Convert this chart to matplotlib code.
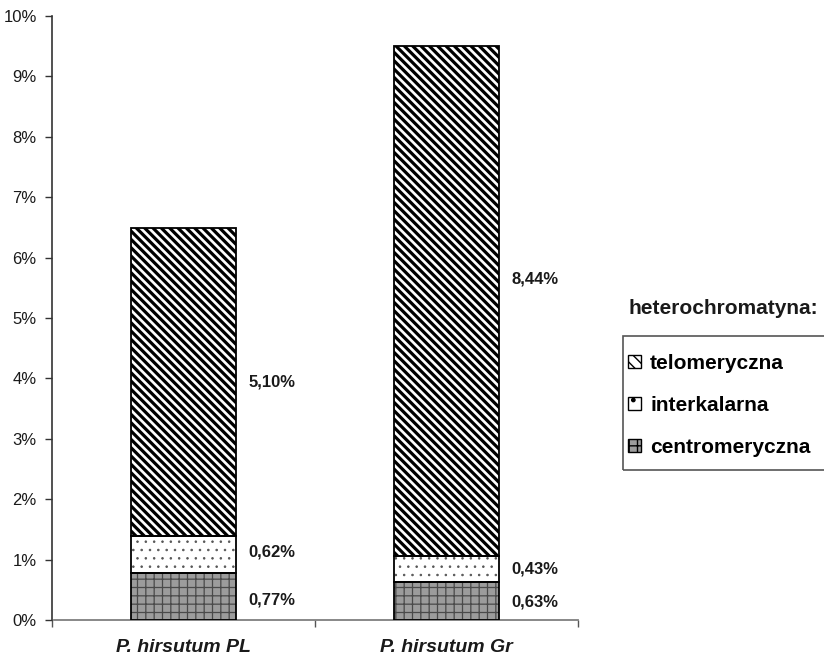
import matplotlib
matplotlib.use("Agg")
import matplotlib.pyplot as plt
from matplotlib.patches import Rectangle
import numpy as np

plt.rcParams['font.family'] = ['Liberation Sans', 'DejaVu Sans']

categories = ["P. hirsutum PL", "P. hirsutum Gr"]
series_names = ["centromeryczna", "interkalarna", "telomeryczna"]
centromeric = [0.77, 0.63]
intercalary = [0.62, 0.43]
telomeric = [5.10, 8.44]
value_labels = [["0,77%", "0,63%"], ["0,62%", "0,43%"], ["5,10%", "8,44%"]]
# vertical nudges (points) for the value labels, same layout as value_labels
label_nudge = [[-2, -1], [2, 0], [0, 16]]
y_ticks = [0, 1, 2, 3, 4, 5, 6, 7, 8, 9, 10]

W, H = 824, 656
fig = plt.figure(figsize=(W / 100, H / 100), dpi=100)
ax = fig.add_axes([52 / W, 1 - 620 / H, (579 - 52) / W, (620 - 16) / H])

x = np.arange(len(categories))
bar_w = 0.40
styles = [
    dict(face="#9c9c9c", hatch="++", hcolor="#4a4a4a", hlw=0.9,
         key_hatch="++", key_lw=0.8),
    dict(face="white", hatch="..", hcolor="#555555", hlw=0.6,
         key_hatch=".", key_lw=0.6),
    dict(face="white", hatch="\\\\\\\\", hcolor="black", hlw=2.3,
         key_hatch="\\\\\\", key_lw=1.3),
]

series = [centromeric, intercalary, telomeric]
bottom = np.zeros(len(categories))
handles = []
for vals, st, name, labels, nudges in zip(series, styles, series_names,
                                          value_labels, label_nudge):
    vals = np.asarray(vals)
    with plt.rc_context({'hatch.linewidth': st["hlw"]}):
        bars = ax.bar(x, vals, bar_w, bottom=bottom, color=st["face"],
                      edgecolor=st["hcolor"], hatch=st["hatch"], linewidth=0,
                      label=name, zorder=2)
        for b in bars:
            if hasattr(b, "set_hatch_linewidth"):
                b.set_hatch_linewidth(st["hlw"])
    ax.bar(x, vals, bar_w, bottom=bottom, fill=False, edgecolor="black",
           linewidth=1.3, zorder=3)
    with plt.rc_context({'hatch.linewidth': st["key_lw"]}):
        h = Rectangle((0, 0), 1, 1, facecolor=st["face"], edgecolor="black",
                      hatch=st["key_hatch"], linewidth=1.0)
        if hasattr(h, "set_hatch_linewidth"):
            h.set_hatch_linewidth(st["key_lw"])
    handles.append(h)
    for xi, b0, v, lab, dn in zip(x, bottom, vals, labels, nudges):
        ax.annotate(lab, xy=(xi + bar_w / 2, b0 + v / 2), xytext=(9, dn),
                    textcoords="offset points", ha="left", va="center",
                    fontsize=12, fontweight="bold", color="#1a1a1a")
    bottom = bottom + vals

ax.set_xlim(-0.492, 1.504)
ax.set_ylim(0, 10)
ax.set_yticks(y_ticks)
ax.set_yticklabels([f"{t}%" for t in y_ticks], fontsize=12, color="#1a1a1a")
ax.set_xticks([-0.5, 0.5, 1.5])
ax.set_xticklabels([])
ax.set_xticks(x, minor=True)
ax.set_xticklabels(categories, minor=True, fontsize=14, fontweight="bold",
                   fontstyle="italic", color="#1a1a1a")
ax.tick_params(axis="x", which="minor", length=0, pad=14)
ax.tick_params(axis="x", which="major", direction="out", length=5,
               color="#555555", width=1)
ax.tick_params(axis="y", direction="out", length=5, width=1, color="#333333",
               pad=6)
for s in ("top", "right"):
    ax.spines[s].set_visible(False)
ax.spines["bottom"].set_color("#7f7f7f")
ax.spines["bottom"].set_linewidth(1.3)
ax.spines["bottom"].set_bounds(-0.492, 1.5)
ax.spines["left"].set_color("#333333")
ax.spines["left"].set_linewidth(1.2)

# legend title above the framed key
fig.text(628 / W, 1 - 309 / H, "heterochromatyna:", fontsize=15,
         fontweight="bold", ha="left", va="center", color="#1a1a1a")
frame = Rectangle((623 / W, 1 - 470 / H), (840 - 623) / W, (470 - 336) / H,
                  transform=fig.transFigure, fill=False, edgecolor="#555555",
                  linewidth=1.2, clip_on=False)
fig.add_artist(frame)
fig.legend(handles[::-1], series_names[::-1], loc="upper left",
           bbox_to_anchor=(624 / W, 1 - 350 / H), frameon=False,
           prop=dict(size=15, weight="bold"), handlelength=0.6,
           handleheight=0.6, handletextpad=0.45, labelspacing=1.1,
           borderaxespad=0, borderpad=0.2)

fig.savefig("out.png", dpi=100)
